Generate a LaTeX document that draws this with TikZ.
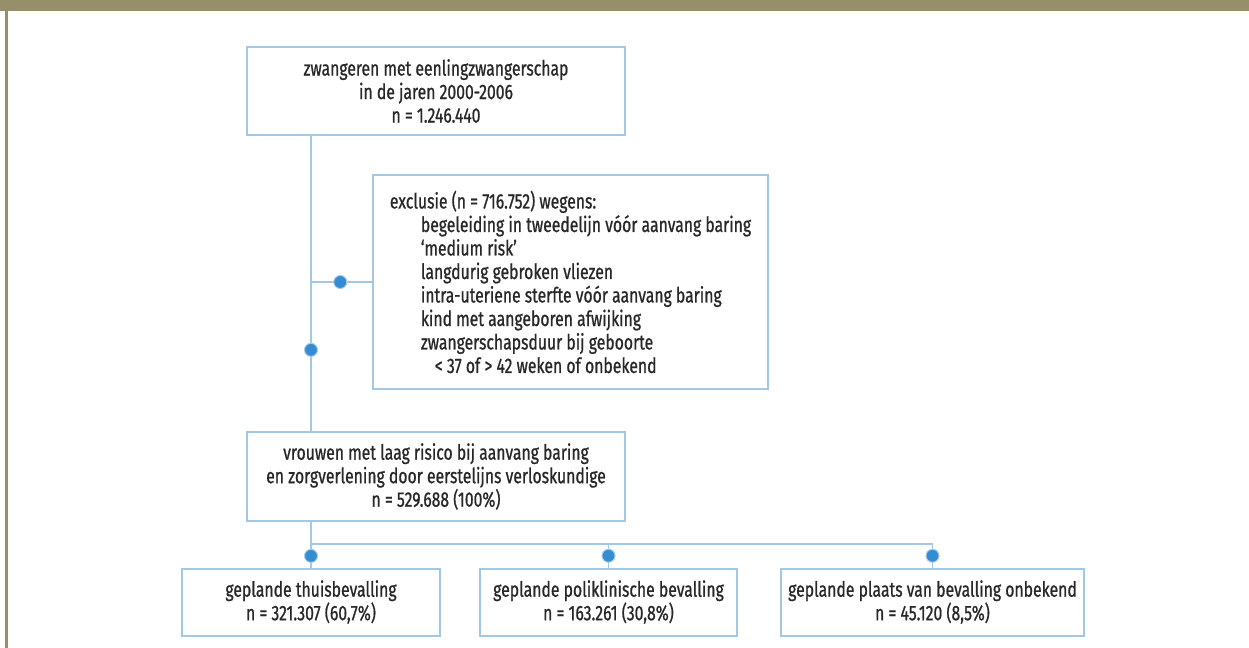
\documentclass[tikz,border=0pt]{standalone}
\usepackage{fontspec}
\setmainfont{Fira Sans}[FakeStretch=0.75, FakeBold=0.8]
\usetikzlibrary{positioning}

\definecolor{olive}{RGB}{150,143,106}
\definecolor{lineblue}{RGB}{163,200,230}
\definecolor{dotblue}{RGB}{52,140,210}
\definecolor{textgray}{RGB}{40,40,40}

\begin{document}
\begin{tikzpicture}[
            x = 0.5pt, y = -0.5pt, % one unit is one pixel
            font = \fontsize{10.5}{11.75}\selectfont,
            text = textgray,
            every edge/.style = {draw = lineblue, line width = 0.75pt}
        ]

        \tikzstyle{box}=[
            draw = lineblue,
            line width = 1pt,
            fill = white,
            align = center,
            inner sep = 0pt
        ]

        \tikzstyle{dot}=[
            circle,
            fill = dotblue,
            draw = dotblue!45,
            line width = 0.5pt,
            inner sep = 0pt,
            minimum size = 6.5pt
        ]

        % frame
        \useasboundingbox (0,0) rectangle (1249,648);
        \fill[olive] (0,0) rectangle (1249,11);
        \fill[olive] (4.5,11) rectangle (8,648);

        \node[box, minimum width=189pt, minimum height=44pt] (top) at (436,91)
            {zwangeren met eenlingzwangerschap\\ in de jaren 2000-2006\\ n = 1.246.440};
        \node[box, minimum width=197.5pt, minimum height=107pt, align=left] (excl) at (570.5,282)
            {exclusie (n = 716.752) wegens:\\
            \hspace*{15.5pt}begeleiding in tweedelijn vóór aanvang baring\\
            \hspace*{15.5pt}‘medium risk’\\
            \hspace*{15.5pt}langdurig gebroken vliezen\\
            \hspace*{15.5pt}intra-uteriene sterfte vóór aanvang baring\\
            \hspace*{15.5pt}kind met aangeboren afwijking\\
            \hspace*{15.5pt}zwangerschapsduur bij geboorte\\
            \hspace*{22.5pt}< 37 of > 42 weken of onbekend};
        \node[box, minimum width=189pt, minimum height=44.5pt] (low) [below=147.5pt of top]
            {vrouwen met laag risico bij aanvang baring\\ en zorgverlening door eerstelijns verloskundige\\ n = 529.688 (100\%)};
        \node[box, minimum width=129pt, minimum height=33.5pt] (thuis) at (311,602)
            {geplande thuisbevalling\\ n = 321.307 (60,7\%)};
        \node[box, minimum width=128.5pt, minimum height=33.5pt] (poli) [right=19pt of thuis]
            {geplande poliklinische bevalling\\ n = 163.261 (30,8\%)};
        \node[box, minimum width=151.5pt, minimum height=33.5pt] (onbek) [right=21pt of poli]
            {geplande plaats van bevalling onbekend\\ n = 45.120 (8,5\%)};

        \coordinate (bus) at (0,544);

        \path (top.south -| thuis) edge node[dot, pos=0.725] {} (low.north -| thuis);
        \path (excl.west -| thuis) edge node[dot, pos=0.48] {} (excl.west);
        \path (low.south -| thuis) edge node[dot, pos=0.745] {} (thuis.north);
        \path (bus -| thuis) edge (bus -| onbek);
        \path (bus -| poli) edge node[dot] {} (poli.north);
        \path (bus -| onbek) edge node[dot] {} (onbek.north);

  \end{tikzpicture}
\end{document}
